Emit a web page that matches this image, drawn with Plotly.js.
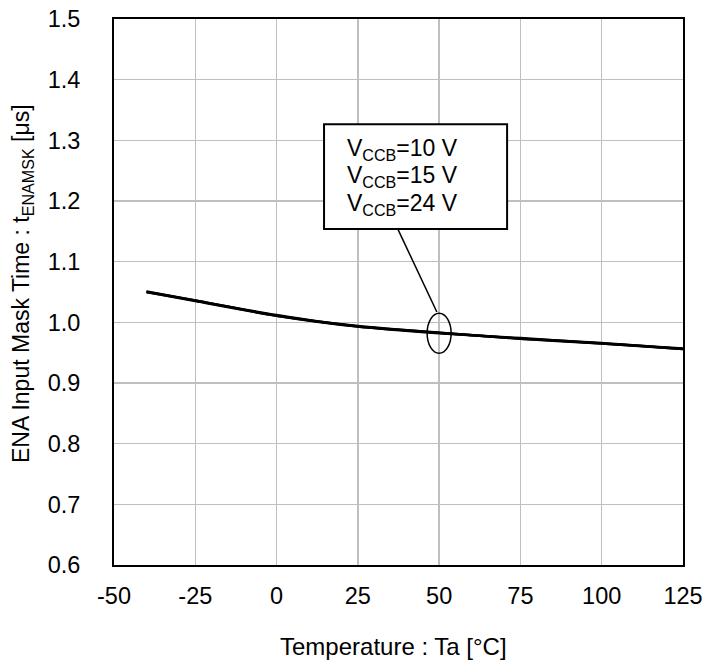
<!DOCTYPE html>
<html>
<head>
<meta charset="utf-8">
<script src="https://cdn.plot.ly/plotly-3.0.1.min.js"></script>
<style>html,body{margin:0;padding:0;background:#fff;}#chart{width:718px;height:663px;}</style>
</head>
<body>
<div id="chart"></div>
<script>
var temperature = [-40, -25, 0, 25, 50, 75, 100, 125];
var vccb10 = [1.050, 1.036, 1.011, 0.993, 0.983, 0.973, 0.965, 0.956];
var vccb15 = [1.051, 1.036, 1.012, 0.993, 0.982, 0.974, 0.965, 0.957];
var vccb24 = [1.050, 1.035, 1.011, 0.994, 0.983, 0.973, 0.966, 0.956];
var seriesNames = ["V<sub>CCB</sub>=10 V", "V<sub>CCB</sub>=15 V", "V<sub>CCB</sub>=24 V"];
var xTicks = [-50, -25, 0, 25, 50, 75, 100, 125];
var yTicks = [0.6, 0.7, 0.8, 0.9, 1.0, 1.1, 1.2, 1.3, 1.4, 1.5];

var FONT = "Liberation Sans, Arial, sans-serif";
var allSeries = [vccb10, vccb15, vccb24];
var traces = allSeries.map(function (vals, i) {
  return {
    x: temperature, y: vals, type: "scatter", mode: "lines",
    name: seriesNames[i],
    line: {color: "#000000", width: 2.5, shape: "spline", smoothing: 0.8},
    hoverinfo: "skip"
  };
});

var labelY = [1.285, 1.2405, 1.1945];
var annotations = seriesNames.map(function (t, i) {
  return {
    xref: "x", yref: "y", x: 21.0, y: labelY[i], xanchor: "left", yanchor: "middle",
    text: t, showarrow: false, font: {family: FONT, size: 23, color: "#000"}
  };
});
annotations.push({
  xref: "paper", yref: "paper", x: 0.4915, y: -0.150, xanchor: "center", yanchor: "middle",
  text: "Temperature : Ta [°C]", showarrow: false, font: {family: FONT, size: 24, color: "#000"}
});
annotations.push({
  xref: "paper", yref: "paper", x: 0, xshift: -91, y: 0.5147, xanchor: "center", yanchor: "middle",
  textangle: -90,
  text: "ENA Input Mask Time : t<sub>ENAMSK</sub> [μs]", showarrow: false,
  font: {family: FONT, size: 23, color: "#000"}
});

var layout = {
  width: 718, height: 663,
  margin: {l: 114, r: 35, t: 19, b: 98},
  paper_bgcolor: "#ffffff", plot_bgcolor: "#ffffff",
  showlegend: false,
  font: {family: FONT, size: 23, color: "#000"},
  xaxis: {
    range: [-50, 125], tickvals: xTicks, ticktext: xTicks.map(String),
    showgrid: true, gridcolor: "#bfbfbf", gridwidth: 1.5, zeroline: false,
    showline: true, linecolor: "#000", linewidth: 2, mirror: true,
    ticks: "", ticklabelstandoff: 9,
    tickfont: {family: FONT, size: 23.5, color: "#000"}, fixedrange: true
  },
  yaxis: {
    range: [0.6, 1.5], tickvals: yTicks, ticktext: yTicks.map(function (v) { return v.toFixed(1); }),
    showgrid: true, gridcolor: "#bfbfbf", gridwidth: 1.5, zeroline: false,
    showline: true, linecolor: "#000", linewidth: 2, mirror: true,
    ticks: "", ticklabelstandoff: 27,
    tickfont: {family: FONT, size: 23.5, color: "#000"}, fixedrange: true
  },
  shapes: [
    {type: "rect", xref: "x", yref: "y", x0: 14.6, x1: 70.9, y0: 1.1537, y1: 1.3267,
     line: {color: "#000", width: 2}, fillcolor: "#ffffff", layer: "above"},
    {type: "line", xref: "x", yref: "y", x0: 37.3, y0: 1.1537, x1: 49.3, y1: 1.017,
     line: {color: "#000", width: 1.5}},
    {type: "circle", xref: "x", yref: "y", x0: 46.3, x1: 53.7, y0: 0.949, y1: 1.015,
     line: {color: "#000", width: 1.5}}
  ],
  annotations: annotations
};

Plotly.newPlot("chart", traces, layout, {staticPlot: true, displayModeBar: false});
</script>
</body>
</html>
